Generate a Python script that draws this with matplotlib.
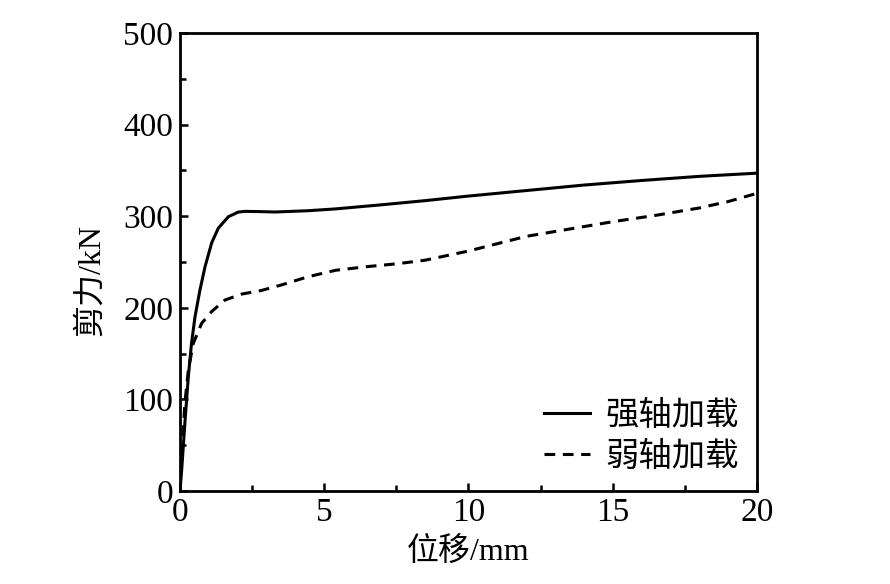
import matplotlib.pyplot as plt
from matplotlib.ticker import MultipleLocator

plt.rcParams['font.family'] = ['Liberation Serif', 'Noto Sans CJK SC']
plt.rcParams['axes.unicode_minus'] = False

# 强轴加载
x_strong = [0, 0.06, 0.17, 0.29, 0.40, 0.52, 0.69, 0.87, 1.10, 1.33, 1.68, 2.02, 2.25, 2.8, 3.3,
            4.45, 5.4, 7, 8.5, 10, 12, 14, 16, 18, 20]
y_strong = [0, 23, 74, 125, 161, 190, 219, 245, 271, 287, 299.5, 304.5, 305.3, 305, 304.6,
            306, 308, 312.5, 317, 322, 328, 334, 339, 343.5, 347]

# 弱轴加载
x_weak = [0, 0.06, 0.17, 0.29, 0.46, 0.75, 1.10, 1.56, 2.14, 2.83, 3.52, 4.45, 5.4, 6.5, 7.5,
          8.5, 10, 11, 12, 13.5, 15, 16.5, 18, 19, 20]
y_weak = [0, 37, 96, 132, 161, 183, 196, 208.5, 215, 219, 225, 234, 241, 245, 248,
          252, 262, 270, 278, 286, 294, 301, 309, 316, 325]

fig = plt.figure(figsize=(8.9, 5.84), dpi=100)
ax = fig.add_axes([0.2022, 0.1592, 0.6484, 0.7843])

ax.plot(x_strong, y_strong, color='black', lw=2.2, label='强轴加载')
ax.plot(x_weak, y_weak, color='black', lw=2.2, ls=(0, (3.5, 2.5)), label='弱轴加载')

ax.set_xlim(0, 20)
ax.set_ylim(0, 500)
ax.xaxis.set_major_locator(MultipleLocator(5))
ax.xaxis.set_minor_locator(MultipleLocator(2.5))
ax.yaxis.set_major_locator(MultipleLocator(100))
ax.yaxis.set_minor_locator(MultipleLocator(50))
ax.tick_params(which='both', direction='in', top=False, right=False, labelsize=24, width=1.8)
ax.tick_params(which='major', length=6, pad=5)
ax.tick_params(which='minor', length=4)
for s in ax.spines.values():
    s.set_linewidth(2)

ax.set_xlabel('位移/mm', fontsize=23, labelpad=6)
ax.set_ylabel('剪力/kN', fontsize=23)
ax.yaxis.set_label_coords(-0.129, 0.46)

ax.legend(loc='lower right', frameon=False, fontsize=24, handlelength=1.4,
          handletextpad=0.45, labelspacing=0.3, borderaxespad=0.15)

fig.savefig('out.png', dpi=100)
